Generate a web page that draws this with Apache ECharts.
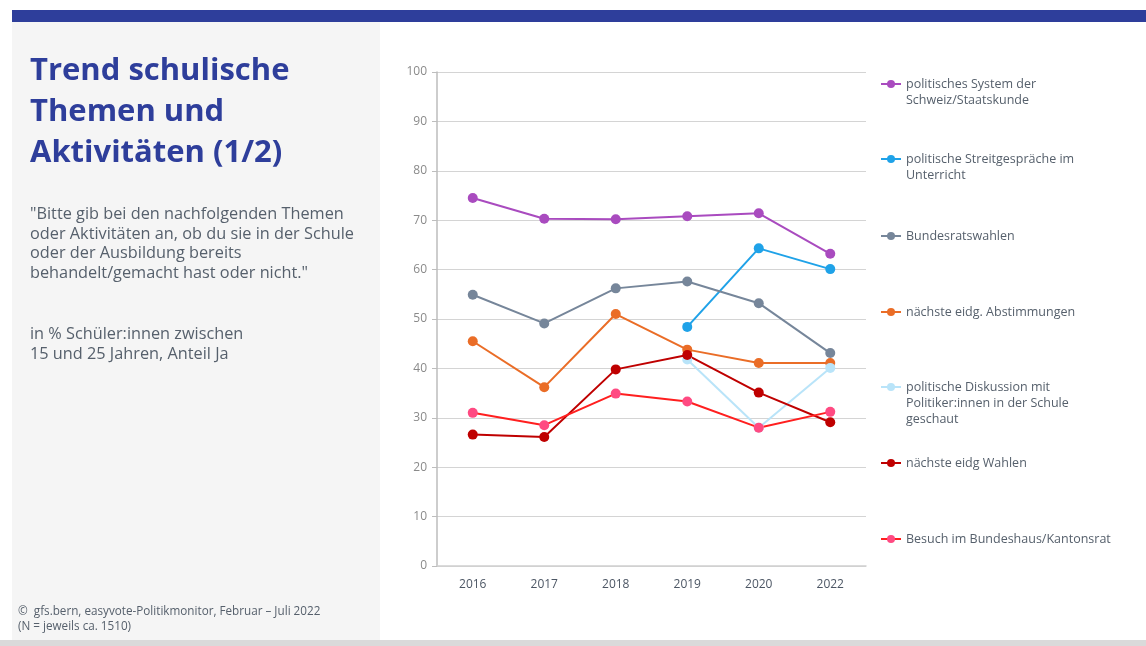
<!DOCTYPE html>
<html>
<head>
<meta charset="utf-8">
<script src="https://cdn.jsdelivr.net/npm/echarts@6/dist/echarts.min.js"></script>
<style>
  html, body { margin: 0; padding: 0; background: #ffffff; }
  #chart { width: 1146px; height: 646px; }
</style>
</head>
<body>
<div id="chart"></div>
<script>
// Survey years on the category axis
const years = ['2016', '2017', '2018', '2019', '2020', '2022'];
const yTicks = [0, 10, 20, 30, 40, 50, 60, 70, 80, 90, 100];

// Share answering "yes", in percent
const staatskunde     = [74.5, 70.3, 70.2, 70.8, 71.4, 63.2];
const streitgespraeche = [null, null, null, 48.4, 64.3, 60.1];
const bundesratswahlen = [54.9, 49.1, 56.2, 57.6, 53.2, 43.1];
const abstimmungen    = [45.5, 36.2, 51.0, 43.8, 41.1, 41.1];
const diskussion      = [null, null, null, 41.8, 28.0, 40.1];
const wahlen          = [26.6, 26.1, 39.8, 42.7, 35.1, 29.1];
const besuch          = [31.0, 28.5, 34.9, 33.3, 28.0, 31.2];

const seriesNames = [
  'politisches System der Schweiz/Staatskunde',
  'politische Streitgespräche im Unterricht',
  'Bundesratswahlen',
  'nächste eidg. Abstimmungen',
  'politische Diskussion mit Politiker:innen in der Schule geschaut',
  'nächste eidg Wahlen',
  'Besuch im Bundeshaus/Kantonsrat'
];
// Legend labels as wrapped lines
const legendLines = [
  ['politisches System der', 'Schweiz/Staatskunde'],
  ['politische Streitgespräche im', 'Unterricht'],
  ['Bundesratswahlen'],
  ['nächste eidg. Abstimmungen'],
  ['politische Diskussion mit', 'Politiker:innen in der Schule', 'geschaut'],
  ['nächste eidg Wahlen'],
  ['Besuch im Bundeshaus/Kantonsrat']
];
const seriesValues = [staatskunde, streitgespraeche, bundesratswahlen, abstimmungen, diskussion, wahlen, besuch];
const lineColors   = ['#a94bbf', '#1fa2e8', '#76869a', '#ea6d27', '#b9e4f9', '#bf0000', '#ff1f1f'];
const dotColors    = ['#a94bbf', '#1fa2e8', '#76869a', '#ea6d27', '#b9e4f9', '#bf0000', '#ff4a82'];
const legendCenters = [84, 159, 236, 312, 387, 463, 539];

const FONT = '"Open Sans", "Noto Sans", sans-serif';
const TEXT_GREY = '#56606c';

const chart = echarts.init(document.getElementById('chart'), null, { renderer: 'canvas' });

// Each legend entry is its own legend so it can sit at a fixed height.
// Leading blank lines keep the icon level with the first text line.
const LH = 16;
const legends = seriesNames.map((name, i) => {
  const n = legendLines[i].length;
  const label = new Array(n - 1).fill('').concat(legendLines[i]).join('\n');
  return {
    left: 880,
    top: legendCenters[i] - (2 * n - 1) * LH / 2,
    padding: 0,
    orient: 'vertical',
    itemWidth: 20,
    itemHeight: 10,
    itemGap: 0,
    data: [name],
    selectedMode: false,
    formatter: () => label,
    textStyle: {
      fontFamily: FONT,
      fontSize: 12.5,
      color: TEXT_GREY,
      lineHeight: LH
    }
  };
});

const quoteLines = [
  '"Bitte gib bei den nachfolgenden Themen',
  'oder Aktivitäten an, ob du sie in der Schule',
  'oder der Ausbildung bereits',
  'behandelt/gemacht hast oder nicht."'
];

chart.setOption({
  animation: false,
  backgroundColor: '#ffffff',
  graphic: [
    { type: 'rect', z: -10, shape: { x: 12, y: 10, width: 1134, height: 12 }, style: { fill: '#2e3e9b' } },
    { type: 'rect', z: -10, shape: { x: 12, y: 22, width: 368, height: 618 }, style: { fill: '#f5f5f5' } },
    { type: 'rect', z: -10, shape: { x: 0, y: 640, width: 1146, height: 6 }, style: { fill: '#dadada' } },
    {
      type: 'text', left: 30, top: 51,
      style: {
        text: 'Trend schulische\nThemen und\nAktivitäten (1/2)',
        font: 'bold 31px ' + FONT, fill: '#2e3e9b', lineHeight: 41
      }
    },
    {
      type: 'text', left: 30, top: 205,
      style: { text: quoteLines.join('\n'), font: '16.3px ' + FONT, fill: TEXT_GREY, lineHeight: 19.5 }
    },
    {
      type: 'text', left: 30, top: 325,
      style: { text: 'in % Schüler:innen zwischen\n15 und 25 Jahren, Anteil Ja', font: '16.3px ' + FONT, fill: TEXT_GREY, lineHeight: 19.5 }
    },
    {
      type: 'text', left: 18, top: 604,
      style: { text: '©  gfs.bern, easyvote-Politikmonitor, Februar – Juli 2022\n(N = jeweils ca. 1510)', font: '11.7px ' + FONT, fill: TEXT_GREY, lineHeight: 15 }
    }
  ],
  legend: legends,
  grid: { left: 437, right: 280, top: 72, bottom: 80, containLabel: false },
  xAxis: {
    type: 'category',
    data: years,
    boundaryGap: true,
    axisLine: { show: true, lineStyle: { color: '#cfcfcf', width: 1.5 } },
    axisTick: { show: false },
    axisLabel: { color: '#4c5664', fontFamily: FONT, fontSize: 12, margin: 13 },
    splitLine: { show: false }
  },
  yAxis: {
    type: 'value',
    min: yTicks[0],
    max: yTicks[yTicks.length - 1],
    interval: yTicks[1] - yTicks[0],
    axisLine: { show: true, lineStyle: { color: '#bdbdbd', width: 1.5 } },
    axisTick: { show: true, length: 5, lineStyle: { color: '#bdbdbd' } },
    axisLabel: { color: '#8a8a8a', fontFamily: FONT, fontSize: 12, margin: 10 },
    splitLine: { show: true, lineStyle: { color: '#d4d4d4', width: 1 } }
  },
  series: seriesNames.map((name, i) => ({
    name: name,
    type: 'line',
    data: seriesValues[i],
    symbol: 'circle',
    symbolSize: 10,
    connectNulls: false,
    lineStyle: { color: lineColors[i], width: 2 },
    itemStyle: { color: dotColors[i] },
    emphasis: { disabled: true }
  }))
});
</script>
</body>
</html>
